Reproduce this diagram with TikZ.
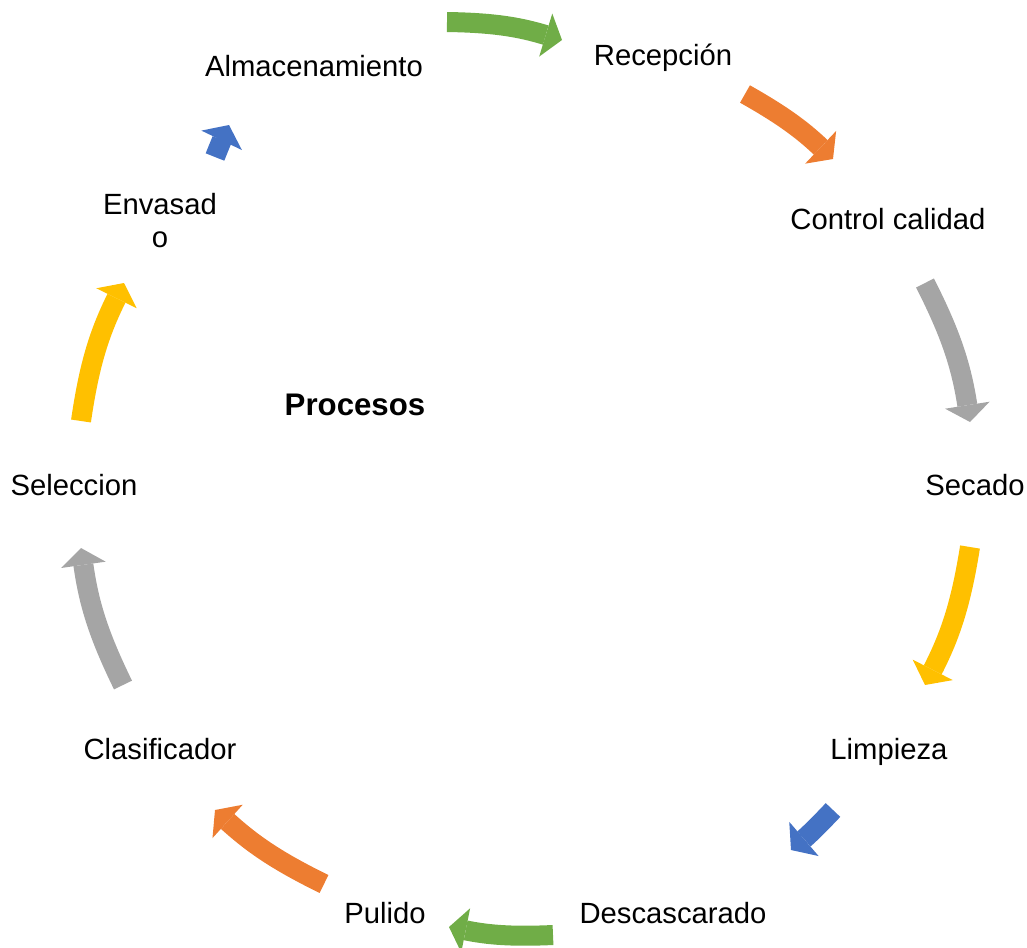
\documentclass[tikz,border=0pt]{standalone}
\usepackage{fontspec}
\setmainfont{Liberation Sans}
\usetikzlibrary{arrows.meta}
\definecolor{cgreen}{HTML}{70AD47}
\definecolor{corange}{HTML}{ED7D31}
\definecolor{cgray}{HTML}{A5A5A5}
\definecolor{cyellow}{HTML}{FFC000}
\definecolor{cblue}{HTML}{4472C4}
\begin{document}
\begin{tikzpicture}[x=0.025cm,y=0.025cm,
  lbl/.style={anchor=base,inner sep=0pt,font=\fontsize{20.8}{22.8}\selectfont},
  cyc/.style={line width=0.5cm,
    -{Triangle[width=1.125cm,length=0.425cm,line width=0pt]}}
]
\path[use as bounding box] (0,0) rectangle (1027,-948);

% process steps around the cycle
\node[lbl] (recepcion) at (663,-65) {Recepción};
\node[lbl] (control) at (888,-229) {Control calidad};
\node[lbl] (secado) at (975,-495) {Secado};
\node[lbl] (limpieza) at (889,-759) {Limpieza};
\node[lbl] (descascarado) at (673,-923) {Descascarado};
\node[lbl] (pulido) at (385,-923) {Pulido};
\node[lbl] (clasificador) at (160,-759) {Clasificador};
\node[lbl] (seleccion) at (74,-495) {Seleccion};
% base of a two-line node sits on its last line
\node[lbl,align=center] (envasado) at (160,-247) {Envasad\\o};
\node[lbl] (almacenamiento) at (314,-76) {Almacenamiento};
\node[anchor=base,inner sep=0pt,font=\fontsize{22.2}{26}\selectfont\bfseries]
  (procesos) at (355,-415) {Procesos};

% arrow tails and tips
\coordinate (a1s) at (447,-22);  \coordinate (a1e) at (562,-40);
\coordinate (a2s) at (745,-94);  \coordinate (a2e) at (833,-159);
\coordinate (a3s) at (925,-283); \coordinate (a3e) at (970,-422);
\coordinate (a4s) at (970,-547); \coordinate (a4e) at (925,-685);
\coordinate (a5s) at (833,-810); \coordinate (a5e) at (791,-850);
\coordinate (a6s) at (553,-935); \coordinate (a6e) at (449,-927);
\coordinate (a7s) at (324,-884); \coordinate (a7e) at (215,-810);
\coordinate (a8s) at (123,-685); \coordinate (a8e) at (81,-548);
\coordinate (a9s) at (81,-421);  \coordinate (a9e) at (124,-283);
\coordinate (a10s) at (215,-157); \coordinate (a10e) at (229,-125);

% curved cycle arrows
\draw[cyc,cgreen]  (a1s) to[bend left=8] (a1e);
\draw[cyc,corange] (a2s) to[bend left=7] (a2e);
\draw[cyc,cgray]   (a3s) to[bend left=9] (a3e);
\draw[cyc,cyellow] (a4s) to[bend left=9] (a4e);
\draw[cyc,cblue]   (a5s) to[bend left=3] (a5e);
\draw[cyc,cgreen]  (a6s) to[bend left=7] (a6e);
\draw[cyc,corange] (a7s) to[bend left=8] (a7e);
\draw[cyc,cgray]   (a8s) to[bend left=9] (a8e);
\draw[cyc,cyellow] (a9s) to[bend left=9] (a9e);
\draw[cyc,cblue]   (a10s) to[bend left=2] (a10e);
\end{tikzpicture}
\end{document}
